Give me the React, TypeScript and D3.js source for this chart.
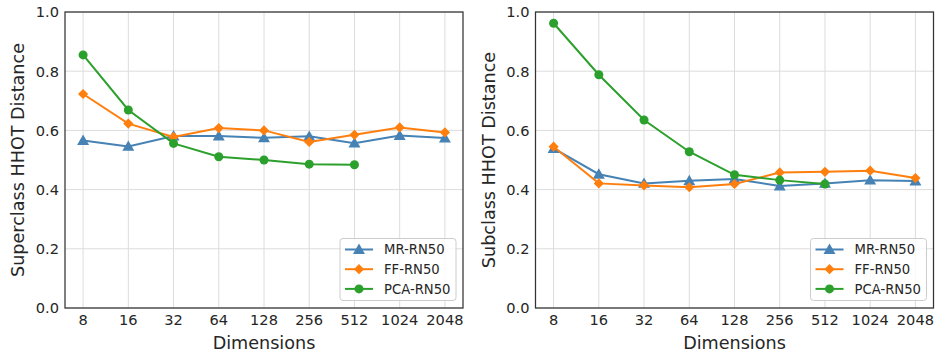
import { useEffect, useRef } from 'react';
import * as d3 from 'd3';

const dims = ['8', '16', '32', '64', '128', '256', '512', '1024', '2048'];
const yTicks = [0, 0.2, 0.4, 0.6, 0.8, 1.0];

const superMR = [0.566, 0.546, 0.581, 0.581, 0.575, 0.58, 0.557, 0.583, 0.574];
const superFF = [0.723, 0.623, 0.578, 0.608, 0.6, 0.561, 0.585, 0.61, 0.593];
const superPCA = [0.855, 0.669, 0.556, 0.511, 0.5, 0.486, 0.484];

const subMR = [0.539, 0.452, 0.421, 0.43, 0.436, 0.412, 0.421, 0.432, 0.429];
const subFF = [0.545, 0.421, 0.414, 0.408, 0.419, 0.458, 0.46, 0.464, 0.439];
const subPCA = [0.962, 0.788, 0.635, 0.528, 0.45, 0.432, 0.419];

const seriesNames = ['MR-RN50', 'FF-RN50', 'PCA-RN50'];
const colors = ['#4682b4', '#ff7f0e', '#2ca02c'];
const symbols = [d3.symbolTriangle, d3.symbolSquare, d3.symbolCircle];
const symbolSizes = [62, 52, 64];
const symbolRotate = [0, 45, 0];
const symbolDy = [1, 0, 0];

const FONT = 'DejaVu Sans, sans-serif';

function Panel({ x0, yLabel, series }) {
  const ref = useRef(null);

  useEffect(() => {
    const g = d3.select(ref.current);
    g.selectAll('*').remove();

    const w = 398;
    const top = 12;
    const bottom = 308;

    // matplotlib-style 5% margins on a categorical axis
    const xScale = d3.scaleLinear().domain([-0.4, dims.length - 1 + 0.4]).range([x0, x0 + w]);
    const yScale = d3.scaleLinear().domain([0, 1]).range([bottom, top]);

    // Grid
    g.append('g')
      .selectAll('line')
      .data(dims)
      .join('line')
      .attr('x1', (d, i) => xScale(i))
      .attr('x2', (d, i) => xScale(i))
      .attr('y1', top)
      .attr('y2', bottom)
      .attr('stroke', '#dcdcdc')
      .attr('stroke-width', 1);

    g.append('g')
      .selectAll('line')
      .data(yTicks)
      .join('line')
      .attr('x1', x0)
      .attr('x2', x0 + w)
      .attr('y1', (d) => yScale(d))
      .attr('y2', (d) => yScale(d))
      .attr('stroke', '#dcdcdc')
      .attr('stroke-width', 1);

    // Tick labels
    g.append('g')
      .selectAll('text')
      .data(dims)
      .join('text')
      .attr('x', (d, i) => xScale(i))
      .attr('y', 325)
      .attr('text-anchor', 'middle')
      .attr('fill', '#262626')
      .attr('font-size', '14.6px')
      .attr('font-family', FONT)
      .text((d) => d);

    g.append('g')
      .selectAll('text')
      .data(yTicks)
      .join('text')
      .attr('x', x0 - 6)
      .attr('y', (d) => yScale(d) + 5.3)
      .attr('text-anchor', 'end')
      .attr('fill', '#262626')
      .attr('font-size', '14.6px')
      .attr('font-family', FONT)
      .text((d) => d3.format('.1f')(d));

    // Axis labels
    g.append('text')
      .attr('x', x0 + w / 2)
      .attr('y', 349)
      .attr('text-anchor', 'middle')
      .attr('fill', '#262626')
      .attr('font-size', '17.6px')
      .attr('font-family', FONT)
      .text('Dimensions');

    g.append('text')
      .attr('transform', `translate(${x0 - 41},${(top + bottom) / 2}) rotate(-90)`)
      .attr('text-anchor', 'middle')
      .attr('fill', '#262626')
      .attr('font-size', '17.6px')
      .attr('font-family', FONT)
      .text(yLabel);

    // Lines and markers
    series.forEach((vals, si) => {
      const line = d3
        .line()
        .x((d, i) => xScale(i))
        .y((d) => yScale(d));
      g.append('path')
        .datum(vals)
        .attr('d', line)
        .attr('fill', 'none')
        .attr('stroke', colors[si])
        .attr('stroke-width', 2);

      g.append('g')
        .selectAll('path')
        .data(vals)
        .join('path')
        .attr(
          'transform',
          (d, i) => `translate(${xScale(i)},${yScale(d) + symbolDy[si]}) rotate(${symbolRotate[si]})`
        )
        .attr('d', d3.symbol().type(symbols[si]).size(symbolSizes[si]))
        .attr('fill', colors[si]);
    });

    // Frame
    g.append('rect')
      .attr('x', x0)
      .attr('y', top)
      .attr('width', w)
      .attr('height', bottom - top)
      .attr('fill', 'none')
      .attr('stroke', '#333')
      .attr('stroke-width', 1.25);

    // Legend
    const lx = x0 + w - 123;
    const ly = 238.5;
    const leg = g.append('g');
    leg.append('rect')
      .attr('x', lx)
      .attr('y', ly)
      .attr('width', 116)
      .attr('height', 62)
      .attr('rx', 3)
      .attr('fill', 'rgba(255,255,255,0.8)')
      .attr('stroke', '#cccccc')
      .attr('stroke-width', 1);

    seriesNames.forEach((name, si) => {
      const cy = ly + 11 + si * 19.7;
      leg.append('line')
        .attr('x1', lx + 5)
        .attr('x2', lx + 33)
        .attr('y1', cy)
        .attr('y2', cy)
        .attr('stroke', colors[si])
        .attr('stroke-width', 2);
      leg.append('path')
        .attr('transform', `translate(${lx + 19},${cy + symbolDy[si]}) rotate(${symbolRotate[si]})`)
        .attr('d', d3.symbol().type(symbols[si]).size(symbolSizes[si]))
        .attr('fill', colors[si]);
      leg.append('text')
        .attr('x', lx + 44)
        .attr('y', cy + 4.7)
        .attr('fill', '#262626')
        .attr('font-size', '13.2px')
        .attr('font-family', FONT)
        .text(name);
    });
  }, [x0, yLabel, series]);

  return <g ref={ref} />;
}

export default function App() {
  return (
    <svg
      width={938}
      height={360}
      style={{ position: 'absolute', left: 0, top: 0, background: '#fff' }}
    >
      <Panel x0={65} yLabel="Superclass HHOT Distance" series={[superMR, superFF, superPCA]} />
      <Panel x0={535.5} yLabel="Subclass HHOT Distance" series={[subMR, subFF, subPCA]} />
    </svg>
  );
}
